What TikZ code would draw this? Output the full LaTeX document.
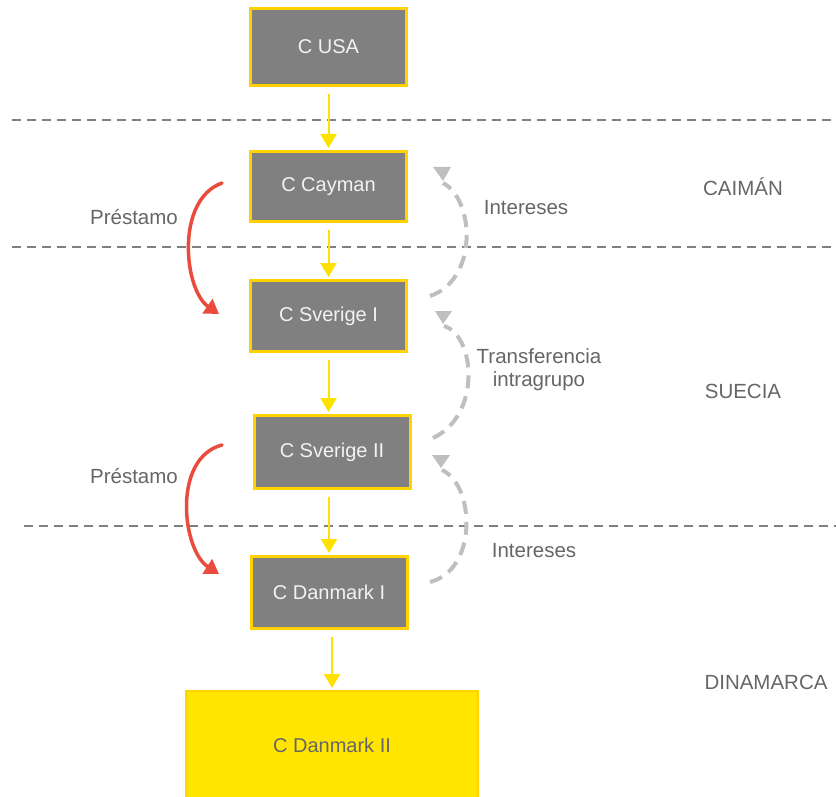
\documentclass[tikz,border=0pt]{standalone}
\usepackage{fontspec}
\setmainfont{Liberation Sans}
\usetikzlibrary{arrows.meta,calc}
\definecolor{boxgray}{HTML}{808080}
\definecolor{boxedge}{HTML}{FFD200}
\definecolor{flowyellow}{HTML}{FFE100}
\definecolor{brightyellow}{HTML}{FFE500}
\definecolor{labelgray}{HTML}{666666}
\definecolor{loanred}{HTML}{E94B3C}
\definecolor{interestgray}{HTML}{BFBFBF}
\definecolor{borderline}{HTML}{808080}
\tikzset{
  company/.style={draw=boxedge, line width=3pt, fill=boxgray, text=white!95!black,
    minimum width=156pt, inner sep=0pt,
    font=\fontsize{20}{24}\selectfont},
  holding/.style={draw=boxedge, line width=2pt, fill=brightyellow, text=labelgray,
    minimum width=292pt, minimum height=108pt, inner sep=0pt,
    font=\fontsize{20}{24}\selectfont},
  lbl/.style={text=labelgray, font=\fontsize{20.5}{23}\selectfont, align=center, inner sep=0pt},
  flow/.style={draw=flowyellow, line width=2pt,
    -{Triangle[width=16pt,length=14pt]}, shorten <=7pt, shorten >=2pt},
  loan/.style={draw=loanred, line width=3.5pt, line cap=round,
    -{Triangle[width=17pt,length=14pt]}},
  backflow/.style={draw=interestgray, line width=4pt, dash pattern=on 13pt off 8pt},
  headtri/.style={fill=interestgray},
  border/.style={draw=borderline, line width=1.6pt, dash pattern=on 9pt off 6pt}
}
\begin{document}
\begin{tikzpicture}[x=1pt,y=-1pt]
\useasboundingbox (0,0) rectangle (836,797);

% jurisdiction borders
\draw[border] (12,120) -- (836,120);
\draw[border] (12,247) -- (836,247);
\draw[border] (24,526) -- (836,526);

% companies
\node[company, minimum height=77pt] (usa) at (328.5,47) {C USA};
\node[company, minimum height=70pt] (cay) at (328.5,186.5) {C Cayman};
\node[company, minimum height=71pt] (sv1) at (328.5,316) {C Sverige I};
\node[company, minimum height=73pt] (sv2) at (332,452) {C Sverige II};
\node[company, minimum height=72pt] (dk1) at (329,592.5) {C Danmark I};
\node[holding] (dk2) at (332,745) {C Danmark II};

% ownership chain
\draw[flow] (usa.south) -- (cay.north);
\draw[flow] (cay.south) -- (sv1.north);
\draw[flow] (sv1.south) -- (sv1.south |- sv2.north);
\draw[flow] (dk1.south |- sv2.south) -- (dk1.north);
\draw[flow] (dk2.north |- dk1.south) -- (dk2.north);

% country labels
\node[lbl] (caiman) at (743,187) {CAIMÁN};
\node[lbl] (suecia) at (743,391) {SUECIA};
\node[lbl] (dinamarca) at (766,682) {DINAMARCA};

% loans
\coordinate (loanAfrom) at (222,183);
\coordinate (loanAto) at (219,314);
\draw[loan] (loanAfrom) .. controls (175,200) and (184,290) .. (loanAto);
\node[lbl] (prestA) at (134,217) {Préstamo};

\coordinate (loanBfrom) at (222,445);
\coordinate (loanBto) at (219,574);
\draw[loan] (loanBfrom) .. controls (172,458) and (182,550) .. (loanBto);
\node[lbl] (prestB) at (134,476) {Préstamo};

% payments flowing back up the chain
\coordinate (intAfrom) at (430,296);
\coordinate (intAto) at (443,183);
\draw[backflow] (intAfrom) .. controls (478,280) and (475,200) .. (intAto);
\fill[headtri] (433,167) -- (451,167) -- (443,181) -- cycle;
\node[lbl] (intA) at (526,208) {Intereses};

\coordinate (trfFrom) at (433,438);
\coordinate (trfTo) at (444,326);
\draw[backflow] (trfFrom) .. controls (482,415) and (475,335) .. (trfTo);
\fill[headtri] (435,311) -- (452,311) -- (443,324) -- cycle;
\node[lbl] (trf) at (539,370) {Transferencia\\intragrupo};

\coordinate (intBfrom) at (430,582);
\coordinate (intBto) at (442,470);
\draw[backflow] (intBfrom) .. controls (478,570) and (475,485) .. (intBto);
\fill[headtri] (432,455) -- (450,455) -- (441,468) -- cycle;
\node[lbl] (intB) at (534,551) {Intereses};
\end{tikzpicture}
\end{document}
